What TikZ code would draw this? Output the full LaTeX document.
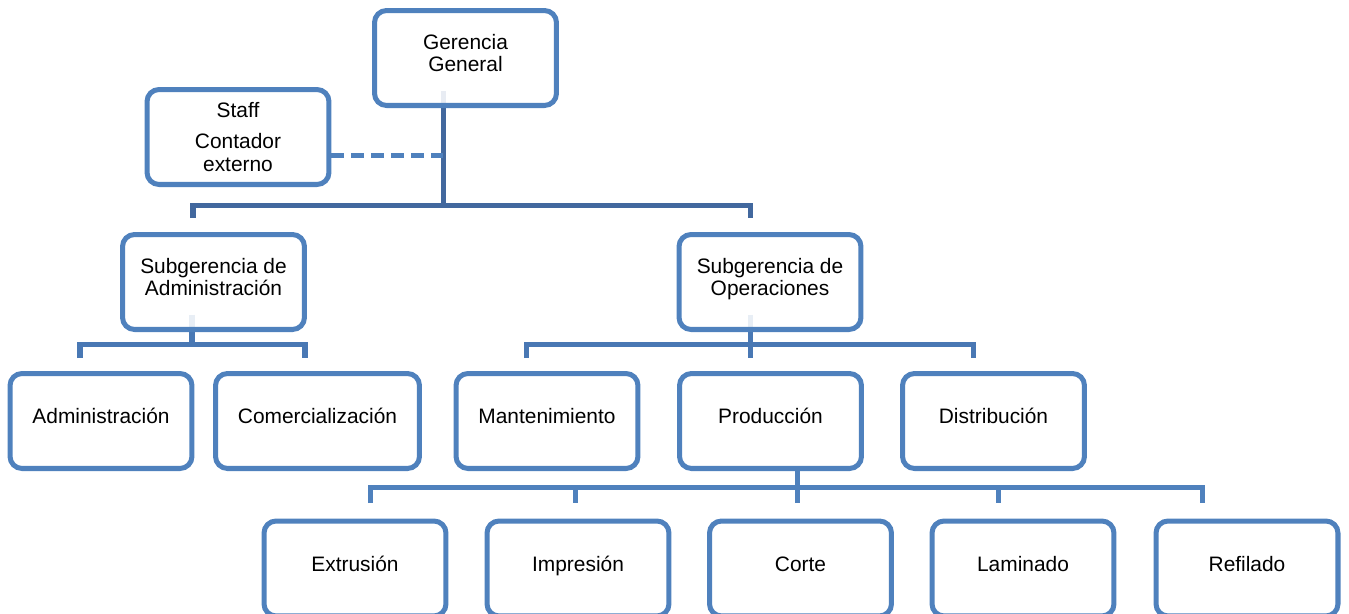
\documentclass[tikz,border=0pt]{standalone}
\usepackage{fontspec}
\setmainfont{Liberation Sans}
\usepackage{xcolor}
\usetikzlibrary{backgrounds}

\definecolor{boxblue}{RGB}{79,129,189}
\definecolor{lineA}{RGB}{66,104,158}
\definecolor{lineB}{RGB}{73,120,180}

\begin{document}
\begin{tikzpicture}[
  x=0.02cm, y=-0.02cm,
  B/.style={draw=boxblue, line width=2.85pt, rounded corners=0.24cm,
    fill=white, fill opacity=0.88, text opacity=1, align=center,
    minimum width=#1, minimum height=1.9cm, inner sep=2pt, text depth=0.2cm,
    font=\fontsize{11.9pt}{12.9pt}\selectfont},
  B/.default=3.64cm,
  S/.style={text height=0.31cm},
  L1/.style={draw=lineA, line width=2.85pt},
  L2/.style={draw=lineB, line width=2.85pt},
  L3/.style={draw=boxblue, line width=2.85pt},
  DL/.style={draw=boxblue, line width=2.85pt, dash pattern=on 0.26cm off 0.14cm},
]
\useasboundingbox (0,0) rectangle (1349,613);

%--- TOP ---
\node[B] (gg) at (465.5,58) {Gerencia\\General};
\node[B, text depth=0pt] (staff) at (238,137) {Staff\\[5pt]Contador\\externo};

%--- SUBGERENCIAS ---
\node[B] (sadm) at (213.5,282) {Subgerencia de\\Administración};
\node[B] (sops) at (770,282)   {Subgerencia de\\Operaciones};

%--- AREAS ---
\node[B, S]        (adm)  at (101,421)   {Administración};
\node[B=4.08cm, S] (com)  at (317.5,421) {Comercialización};
\node[B, S]        (man)  at (547,421)   {Mantenimiento};
\node[B, S]        (prod) at (770.5,421) {Producción};
\node[B, S]        (dist) at (993.5,421) {Distribución};

%--- PRODUCCION ---
\node[B, S] (ext) at (355,568.5)    {Extrusión};
\node[B, S] (imp) at (578,568.5)    {Impresión};
\node[B, S] (cor) at (800.5,568.5)  {Corte};
\node[B, S] (lam) at (1023,568.5)   {Laminado};
\node[B, S] (ref) at (1247,568.5)   {Refilado};

%--- JUNCTIONS ---
\coordinate (j0)  at (443,205);
\coordinate (j0a) at (193,205);
\coordinate (j0b) at (750,205);
\coordinate (jd)  at (443,155);
\coordinate (j1)  at (192,344);
\coordinate (j1a) at (80,344);
\coordinate (j1b) at (305,344);
\coordinate (j2)  at (750,344);
\coordinate (j2a) at (526,344);
\coordinate (j2b) at (973,344);
\coordinate (j3)  at (797,487);
\coordinate (j3a) at (370,487);
\coordinate (j3b) at (575,487);
\coordinate (j3d) at (998,487);
\coordinate (j3e) at (1202,487);

%--- CONNECTORS ---
\begin{pgfonlayer}{background}
\draw[L1] ([yshift=0.34cm]gg.south -| j0) -- (j0);
\draw[L1] (j0a) ++(0,13) -- (j0a) -- (j0b) -- ++(0,13);
\draw[DL] (staff.east |- jd) -- (jd);

\draw[L2] ([yshift=0.35cm]sadm.south -| j1) -- (j1);
\draw[L2] (j1a) ++(0,14) -- (j1a) -- (j1b) -- ++(0,14);

\draw[L2] ([yshift=0.35cm]sops.south -| j2) -- (j2) -- ++(0,14);
\draw[L2] (j2a) ++(0,14) -- (j2a) -- (j2b) -- ++(0,14);

\draw[L3] (prod.south -| j3) -- (j3) -- ++(0,16);
\draw[L3] (j3a) ++(0,16) -- (j3a) -- (j3e) -- ++(0,16);
\foreach \c in {j3b,j3d}
  \draw[L3] (\c) -- ++(0,16);
\end{pgfonlayer}
\end{tikzpicture}
\end{document}
